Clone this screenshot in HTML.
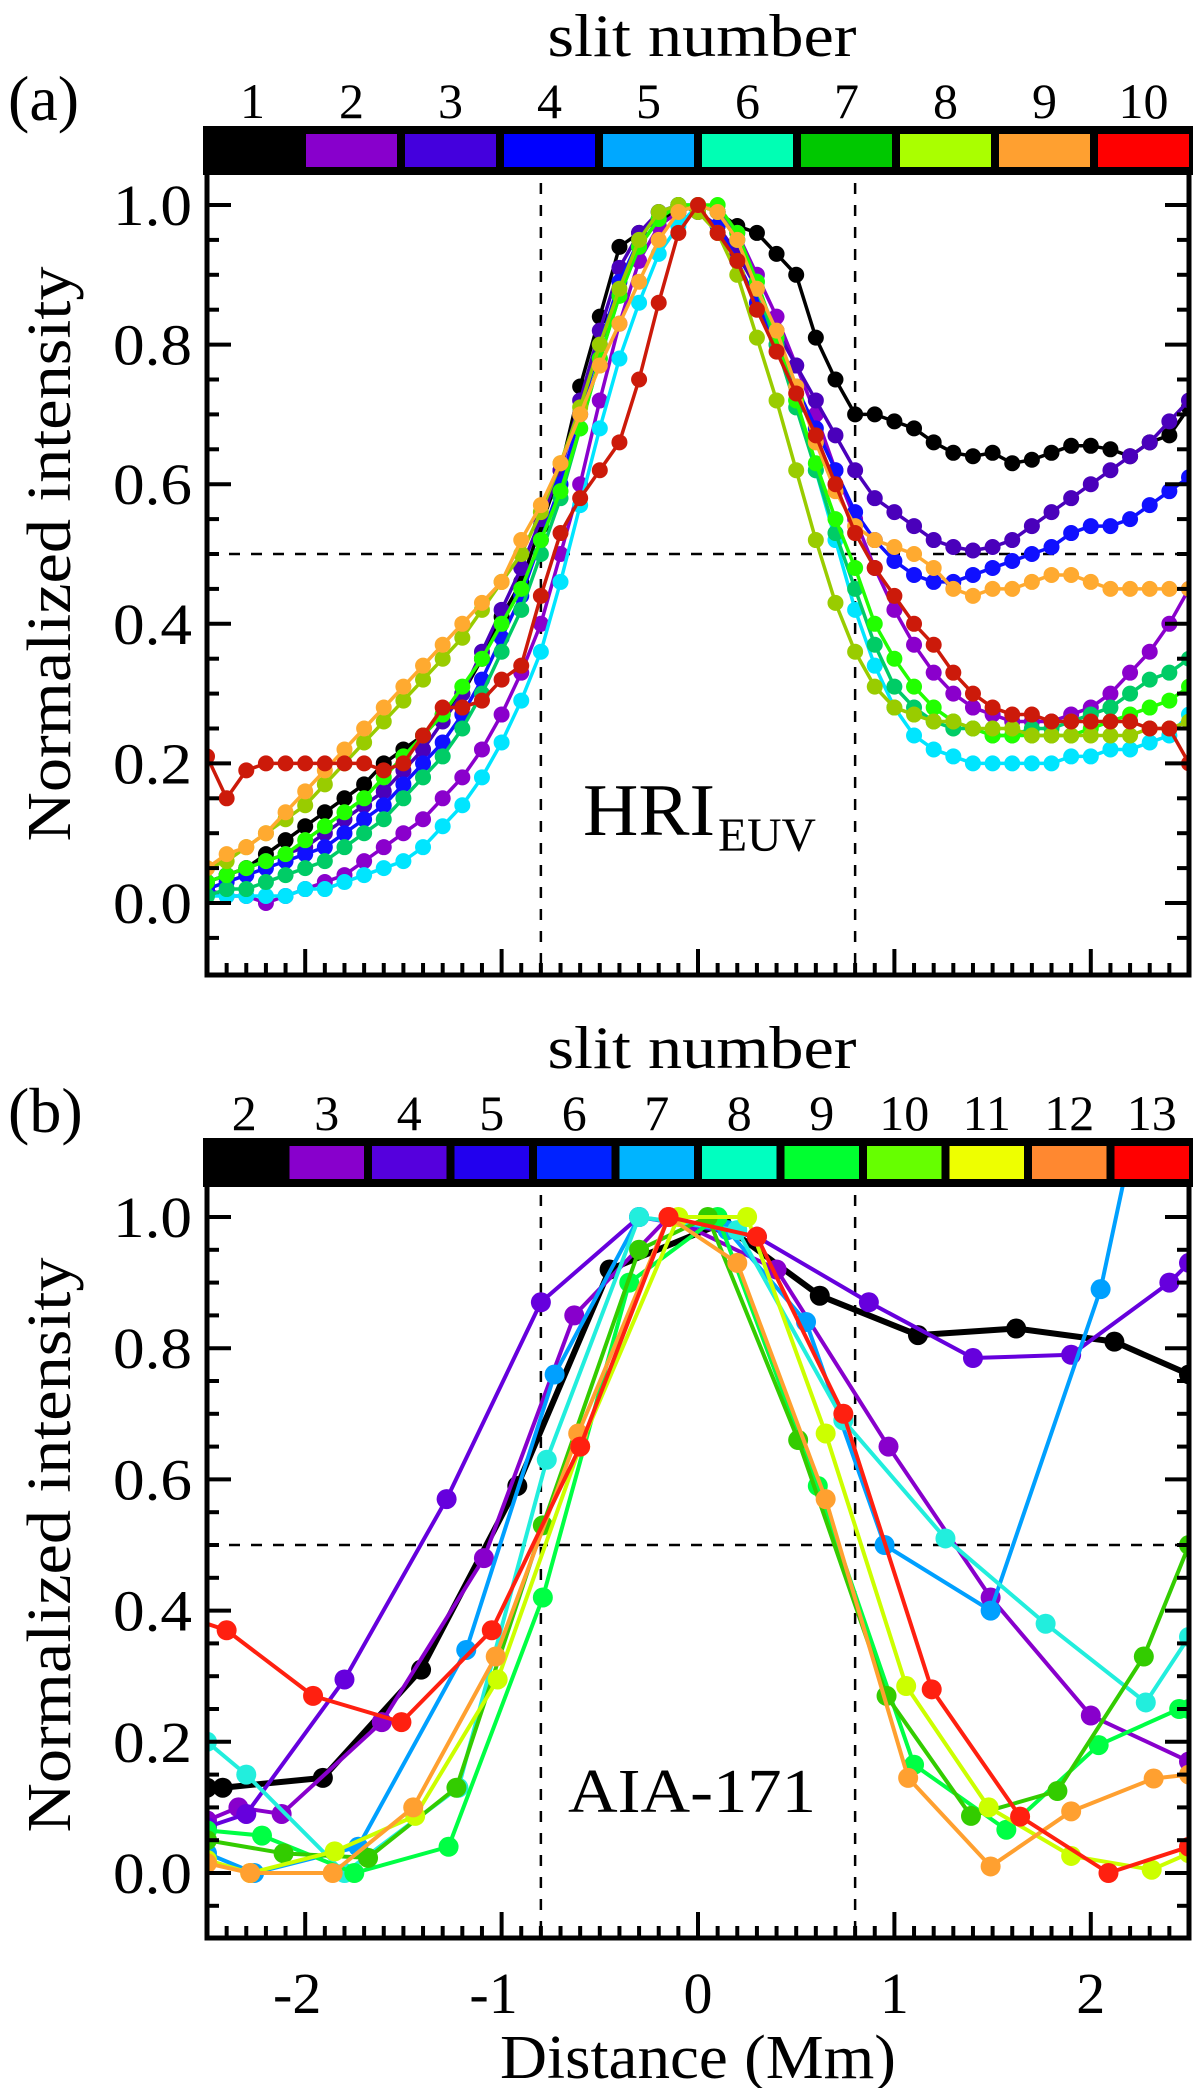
<!DOCTYPE html>
<html><head><meta charset="utf-8"><style>
html,body{margin:0;padding:0;background:#fff;}
svg{display:block;font-family:"Liberation Serif",serif;}
text{font-family:"Liberation Serif",serif;}
</style></head><body>
<svg id="fig" width="1200" height="2088" viewBox="0 0 1200 2088" xmlns="http://www.w3.org/2000/svg" font-family="Liberation Serif, serif">
<defs>
<clipPath id="clipA"><rect x="207" y="175" width="982" height="800"/></clipPath>
<clipPath id="clipB"><rect x="207" y="1187" width="982" height="751"/></clipPath>
</defs>
</svg>
<script>
// ---------- Panel (a) data ----------
const distA = [-2.5,-2.4,-2.3,-2.2,-2.1,-2.0,-1.9,-1.8,-1.7,-1.6,-1.5,-1.4,-1.3,-1.2,-1.1,-1.0,-0.9,-0.8,-0.7,-0.6,-0.5,-0.4,-0.3,-0.2,-0.1,0,0.1,0.2,0.3,0.4,0.5,0.6,0.7,0.8,0.9,1.0,1.1,1.2,1.3,1.4,1.5,1.6,1.7,1.8,1.9,2.0,2.1,2.2,2.3,2.4,2.5];
const slitsA = ["1","2","3","4","5","6","7","8","9","10"];
const a1 = [0.03,0.04,0.05,0.07,0.09,0.11,0.13,0.15,0.17,0.20,0.22,0.24,0.27,0.30,0.35,0.41,0.46,0.54,0.62,0.74,0.84,0.94,0.96,0.98,0.99,1.00,0.99,0.97,0.96,0.93,0.90,0.81,0.75,0.70,0.70,0.69,0.68,0.66,0.645,0.64,0.645,0.63,0.635,0.645,0.655,0.655,0.65,0.64,0.66,0.67,0.71];
const a2 = [0.02,0.01,0.01,0.00,0.01,0.02,0.03,0.04,0.06,0.08,0.10,0.12,0.15,0.18,0.22,0.27,0.33,0.40,0.50,0.60,0.72,0.83,0.92,0.97,0.99,1.00,0.99,0.96,0.90,0.84,0.77,0.70,0.62,0.55,0.48,0.42,0.37,0.33,0.30,0.28,0.27,0.26,0.26,0.26,0.27,0.28,0.30,0.33,0.36,0.40,0.45];
const a3 = [0.03,0.04,0.05,0.06,0.07,0.08,0.10,0.12,0.14,0.16,0.19,0.22,0.26,0.30,0.36,0.42,0.48,0.55,0.62,0.72,0.82,0.91,0.96,0.99,1.00,0.99,0.97,0.93,0.88,0.82,0.77,0.72,0.67,0.62,0.58,0.56,0.54,0.52,0.51,0.505,0.51,0.52,0.54,0.56,0.58,0.60,0.62,0.64,0.66,0.69,0.72];
const a4 = [0.02,0.03,0.04,0.05,0.06,0.07,0.08,0.10,0.12,0.14,0.17,0.20,0.23,0.27,0.32,0.38,0.44,0.52,0.60,0.70,0.80,0.89,0.95,0.99,1.00,0.99,0.97,0.92,0.86,0.80,0.74,0.68,0.62,0.56,0.52,0.49,0.47,0.46,0.46,0.47,0.48,0.49,0.50,0.51,0.53,0.54,0.54,0.55,0.57,0.59,0.61];
const a5 = [0.01,0.01,0.01,0.01,0.01,0.02,0.02,0.03,0.04,0.05,0.06,0.08,0.11,0.14,0.18,0.23,0.29,0.36,0.46,0.57,0.68,0.78,0.86,0.93,0.97,1.00,0.99,0.95,0.89,0.81,0.72,0.62,0.52,0.42,0.34,0.28,0.24,0.22,0.21,0.20,0.20,0.20,0.20,0.20,0.21,0.21,0.22,0.22,0.23,0.24,0.27];
const a6 = [0.01,0.02,0.02,0.03,0.04,0.05,0.06,0.08,0.10,0.12,0.15,0.18,0.21,0.25,0.30,0.36,0.42,0.50,0.58,0.68,0.78,0.87,0.94,0.98,1.00,1.00,0.99,0.95,0.88,0.80,0.71,0.62,0.53,0.45,0.37,0.31,0.28,0.26,0.25,0.25,0.24,0.24,0.25,0.25,0.26,0.27,0.28,0.30,0.32,0.33,0.35];
const a7 = [0.03,0.04,0.05,0.06,0.07,0.09,0.11,0.13,0.15,0.18,0.21,0.24,0.27,0.31,0.35,0.40,0.45,0.52,0.59,0.68,0.78,0.87,0.94,0.98,1.00,1.00,1.00,0.96,0.89,0.81,0.72,0.63,0.55,0.48,0.40,0.35,0.31,0.28,0.26,0.25,0.24,0.24,0.24,0.24,0.24,0.25,0.26,0.27,0.28,0.29,0.31];
const a8 = [0.05,0.06,0.08,0.10,0.12,0.14,0.17,0.20,0.23,0.26,0.29,0.32,0.35,0.38,0.42,0.46,0.50,0.56,0.63,0.71,0.80,0.88,0.95,0.99,1.00,0.99,0.96,0.90,0.81,0.72,0.62,0.52,0.43,0.36,0.31,0.28,0.27,0.26,0.26,0.25,0.25,0.25,0.24,0.24,0.24,0.24,0.24,0.24,0.25,0.25,0.26];
const a9 = [0.05,0.07,0.08,0.10,0.13,0.16,0.19,0.22,0.25,0.28,0.31,0.34,0.37,0.40,0.43,0.46,0.52,0.57,0.63,0.70,0.77,0.83,0.89,0.95,0.99,1.00,0.99,0.95,0.88,0.82,0.74,0.66,0.59,0.54,0.52,0.51,0.50,0.48,0.45,0.44,0.45,0.45,0.46,0.47,0.47,0.46,0.45,0.45,0.45,0.45,0.45];
const a10 = [0.21,0.15,0.19,0.20,0.20,0.20,0.20,0.20,0.20,0.19,0.20,0.24,0.28,0.28,0.29,0.32,0.34,0.44,0.53,0.58,0.62,0.66,0.75,0.86,0.96,1.00,0.96,0.92,0.85,0.79,0.73,0.67,0.60,0.53,0.48,0.44,0.40,0.37,0.33,0.30,0.28,0.27,0.27,0.26,0.26,0.26,0.26,0.26,0.25,0.25,0.20];

// ---------- Panel (b) data ----------
const slitsB = ["2","3","4","5","6","7","8","9","10","11","12","13"];
const b2x = [-2.5,-2.42,-1.91,-1.41,-0.92,-0.45,0.12,0.62,1.12,1.62,2.12,2.5];
const b2y = [0.13,0.13,0.145,0.31,0.59,0.92,0.99,0.88,0.82,0.83,0.81,0.76];
const b3x = [-2.5,-2.34,-2.12,-1.61,-1.09,-0.63,-0.15,0.4,0.97,1.49,2.0,2.5];
const b3y = [0.08,0.10,0.09,0.23,0.48,0.85,1.0,0.92,0.65,0.42,0.24,0.17];
const b4x = [-2.5,-2.3,-1.80,-1.28,-0.8,-0.3,0.3,0.87,1.4,1.9,2.4,2.5];
const b4y = [0.07,0.09,0.295,0.57,0.87,1.0,0.97,0.87,0.785,0.79,0.90,0.93];
const b7x = [-2.5,-2.26,-1.73,-1.18,-0.73,-0.3,0.15,0.55,0.95,1.49,2.05,2.2];
const b7y = [0.03,0.0,0.04,0.34,0.76,1.0,0.98,0.84,0.50,0.40,0.89,1.1];
const b8x = [-2.5,-2.30,-1.80,-1.22,-0.77,-0.3,0.2,0.74,1.26,1.77,2.28,2.5];
const b8y = [0.20,0.15,0.0,0.13,0.63,1.0,0.98,0.69,0.51,0.38,0.26,0.36];
const b9x = [-2.5,-2.22,-1.75,-1.27,-0.79,-0.35,0.1,0.61,1.1,1.57,2.04,2.45,2.5];
const b9y = [0.065,0.057,0.0,0.04,0.42,0.9,1.0,0.59,0.165,0.066,0.195,0.25,0.25];
const b10x = [-2.5,-2.11,-1.68,-1.23,-0.79,-0.3,0.05,0.51,0.96,1.39,1.83,2.27,2.5];
const b10y = [0.05,0.03,0.023,0.13,0.53,0.95,1.0,0.66,0.27,0.087,0.125,0.33,0.5];
const b11x = [-2.5,-2.28,-1.85,-1.44,-1.02,-0.6,-0.1,0.25,0.65,1.06,1.48,1.90,2.31,2.5];
const b11y = [0.02,0.0,0.033,0.087,0.295,0.65,1.0,1.0,0.67,0.285,0.10,0.026,0.005,0.03];
const b12x = [-2.5,-2.28,-1.86,-1.45,-1.03,-0.61,-0.15,0.2,0.65,1.07,1.49,1.90,2.32,2.5];
const b12y = [0.015,0.0,0.0,0.10,0.33,0.67,1.0,0.93,0.57,0.145,0.01,0.094,0.144,0.15];
const b13x = [-2.6,-2.40,-1.96,-1.51,-1.05,-0.60,-0.15,0.3,0.74,1.19,1.64,2.09,2.5];
const b13y = [0.39,0.37,0.27,0.23,0.37,0.65,1.0,0.97,0.70,0.28,0.086,0.0,0.04];

const xTicks = ["-2","-1","0","1","2"];
const xTickVals = [-2,-1,0,1,2];
const yTickVals = [0,0.2,0.4,0.6,0.8,1.0];
const yTickLabels = ["0.0","0.2","0.4","0.6","0.8","1.0"];

const NS = "http://www.w3.org/2000/svg";
const svg = document.getElementById("fig");
function mk(tag, attrs, parent) {
  const e = document.createElementNS(NS, tag);
  for (const k in attrs) e.setAttribute(k, attrs[k]);
  (parent || svg).appendChild(e);
  return e;
}
const xPx = v => 207 + (v + 2.5) * 196.4;
const yA = v => 903 - v * 698;
const yB = v => 1873 - v * 656;

function drawPanel(p) {
  const g = mk("g", {});
  
  
  const st = mk("text", {x: 702, y: p.cbTop - 70, "font-size": 60, "text-anchor": "middle", textLength: 309, lengthAdjust: "spacingAndGlyphs"}, g);
  st.textContent = "slit number";
  
  
  const pl = mk("text", {x: 8, y: p.cbTop - 6, "font-size": 64}, g);
  pl.textContent = p.label;
  
  
  const cbL = 203, cbR = 1193, n = p.slits.length, w = (cbR - cbL) / n;
  const cb = mk("rect", {x: cbL, y: p.cbTop, width: cbR - cbL, height: 49, fill: "#000"}, g);
  
  
  p.slits.forEach((s, i) => {
    const r = mk("rect", {x: cbL + i * w + (i === 0 ? 8 : 4), y: p.cbTop + 8, width: w - (i === 0 ? 12 : 8), height: 33, fill: p.cbColors[i]}, g);
    
    
    const t = mk("text", {x: cbL + (i + 0.5) * w, y: p.cbTop - 8, "font-size": 50, "text-anchor": "middle"}, g);
    t.textContent = s;
    
    
  });
  const top = p.cbTop + 49, bot = p.bottom;
  [-0.8, 0.8].forEach(v => {
    const l = mk("line", {x1: xPx(v), x2: xPx(v), y1: top + 8, y2: bot, stroke: "#000", "stroke-width": 2.5, "stroke-dasharray": "11 11"}, g);
    
    
  });
  const hl = mk("line", {x1: 207, x2: 1189, y1: p.y(0.5), y2: p.y(0.5), stroke: "#000", "stroke-width": 2.5, "stroke-dasharray": "11 11"}, g);
  
  
  const sg = mk("g", {"clip-path": p.clip}, g);
  p.series.forEach((s, k) => {
    const pts = s.xs.map((x, i) => xPx(x) + "," + p.y(s.ys[i])).join(" ");
    const line = mk("polyline", {points: pts, fill: "none", stroke: s.color, "stroke-width": s.lw, "stroke-linejoin": "round"}, sg);
    
    
    s.xs.forEach((x, i) => {
      const c = mk("circle", {cx: xPx(x), cy: p.y(s.ys[i]), r: p.r, fill: s.color}, sg);
      
      
    });
  });
  const ax = mk("path", {d: `M207 ${top} V${bot} H1189 V${top}`, fill: "none", stroke: "#000", "stroke-width": 5}, g);
  
  
  for (let k = -2; k <= 21; k++) {
    const v = k * 0.05, y = p.y(v);
    if (y < top + 4 || y > bot - 4) continue;
    const major = k % 4 === 0;
    const len = major ? 24 : 12;
    mk("line", {x1: 207, x2: 207 + len, y1: y, y2: y, stroke: "#000", "stroke-width": 4}, g);
    mk("line", {x1: 1189, x2: 1189 - len, y1: y, y2: y, stroke: "#000", "stroke-width": 4}, g);
  }
  for (let k = -24; k <= 24; k++) {
    const x = xPx(k / 10);
    const len = k % 10 === 0 ? 26 : 12;
    mk("line", {x1: x, x2: x, y1: bot, y2: bot - len, stroke: "#000", "stroke-width": 4}, g);
  }
  yTickVals.forEach((v, i) => {
    const t = mk("text", {x: 192, y: p.y(v) + 20, "font-size": 58, "text-anchor": "end", textLength: 79, lengthAdjust: "spacingAndGlyphs"}, g);
    t.textContent = yTickLabels[i];
    
    
  });
  const yt = mk("text", {x: 0, y: 0, "font-size": 62, "text-anchor": "middle", textLength: 575, lengthAdjust: "spacingAndGlyphs", transform: `translate(70 ${p.y(0.5)}) rotate(-90)`}, g);
  yt.textContent = "Normalized intensity";
  
  
  return g;
}

const colA = ["#000000","#8a00cc","#4a00bb","#1010ff","#00e5ff","#00cc66","#22ff00","#99cc00","#ffaa30","#cc1a0a"];
const seriesA = [a1,a2,a3,a4,a5,a6,a7,a8,a9,a10].map((ys, i) => ({slit: slitsA[i], xs: distA, ys: ys, color: colA[i], lw: 3.5}));
drawPanel({name: "panel-a-hri-euv", label: "(a)", cbTop: 126, bottom: 975, y: yA, clip: "url(#clipA)", r: 8,
  slits: slitsA, cbColors: ["#000","#8800cc","#4400dd","#0000ff","#00a8ff","#00ffb4","#00c800","#aaff00","#ffa030","#ff0000"],
  series: seriesA});

const seriesB = [
  {slit: "2", xs: b2x, ys: b2y, color: "#000000", lw: 6},
  {slit: "3", xs: b3x, ys: b3y, color: "#8800cc", lw: 4},
  {slit: "4", xs: b4x, ys: b4y, color: "#6600dd", lw: 4},
  {slit: "7", xs: b7x, ys: b7y, color: "#00a0ff", lw: 4},
  {slit: "8", xs: b8x, ys: b8y, color: "#22eedd", lw: 4},
  {slit: "9", xs: b9x, ys: b9y, color: "#00ff44", lw: 4},
  {slit: "10", xs: b10x, ys: b10y, color: "#33cc00", lw: 4},
  {slit: "11", xs: b11x, ys: b11y, color: "#ccff00", lw: 4},
  {slit: "12", xs: b12x, ys: b12y, color: "#ffa030", lw: 4},
  {slit: "13", xs: b13x, ys: b13y, color: "#ff2010", lw: 4}
];
drawPanel({name: "panel-b-aia-171", label: "(b)", cbTop: 1138, bottom: 1938, y: yB, clip: "url(#clipB)", r: 10,
  slits: slitsB, cbColors: ["#000","#8800cc","#5500dd","#2200ee","#0022ff","#00b4ff","#00ffc0","#00ff30","#66ff00","#eeff00","#ff8830","#ff0000"],
  series: seriesB});

xTickVals.forEach((v, i) => {
  const t = mk("text", {x: xPx(v) - (v < 0 ? 8 : 0), y: 2013, "font-size": 58, "text-anchor": "middle"});
  t.textContent = xTicks[i];
  
  
});
const xt = mk("text", {x: 698, y: 2078, "font-size": 62, "text-anchor": "middle", textLength: 396, lengthAdjust: "spacingAndGlyphs"});
xt.textContent = "Distance (Mm)";



const hri = mk("text", {x: 583, y: 835, "font-size": 74, textLength: 132, lengthAdjust: "spacingAndGlyphs"});
hri.textContent = "HRI";


const euv = mk("text", {x: 718, y: 851, "font-size": 48, textLength: 98, lengthAdjust: "spacingAndGlyphs"});
euv.textContent = "EUV";


const aia = mk("text", {x: 568, y: 1812, "font-size": 62, textLength: 248, lengthAdjust: "spacingAndGlyphs"});
aia.textContent = "AIA-171";


</script>
</body></html>
